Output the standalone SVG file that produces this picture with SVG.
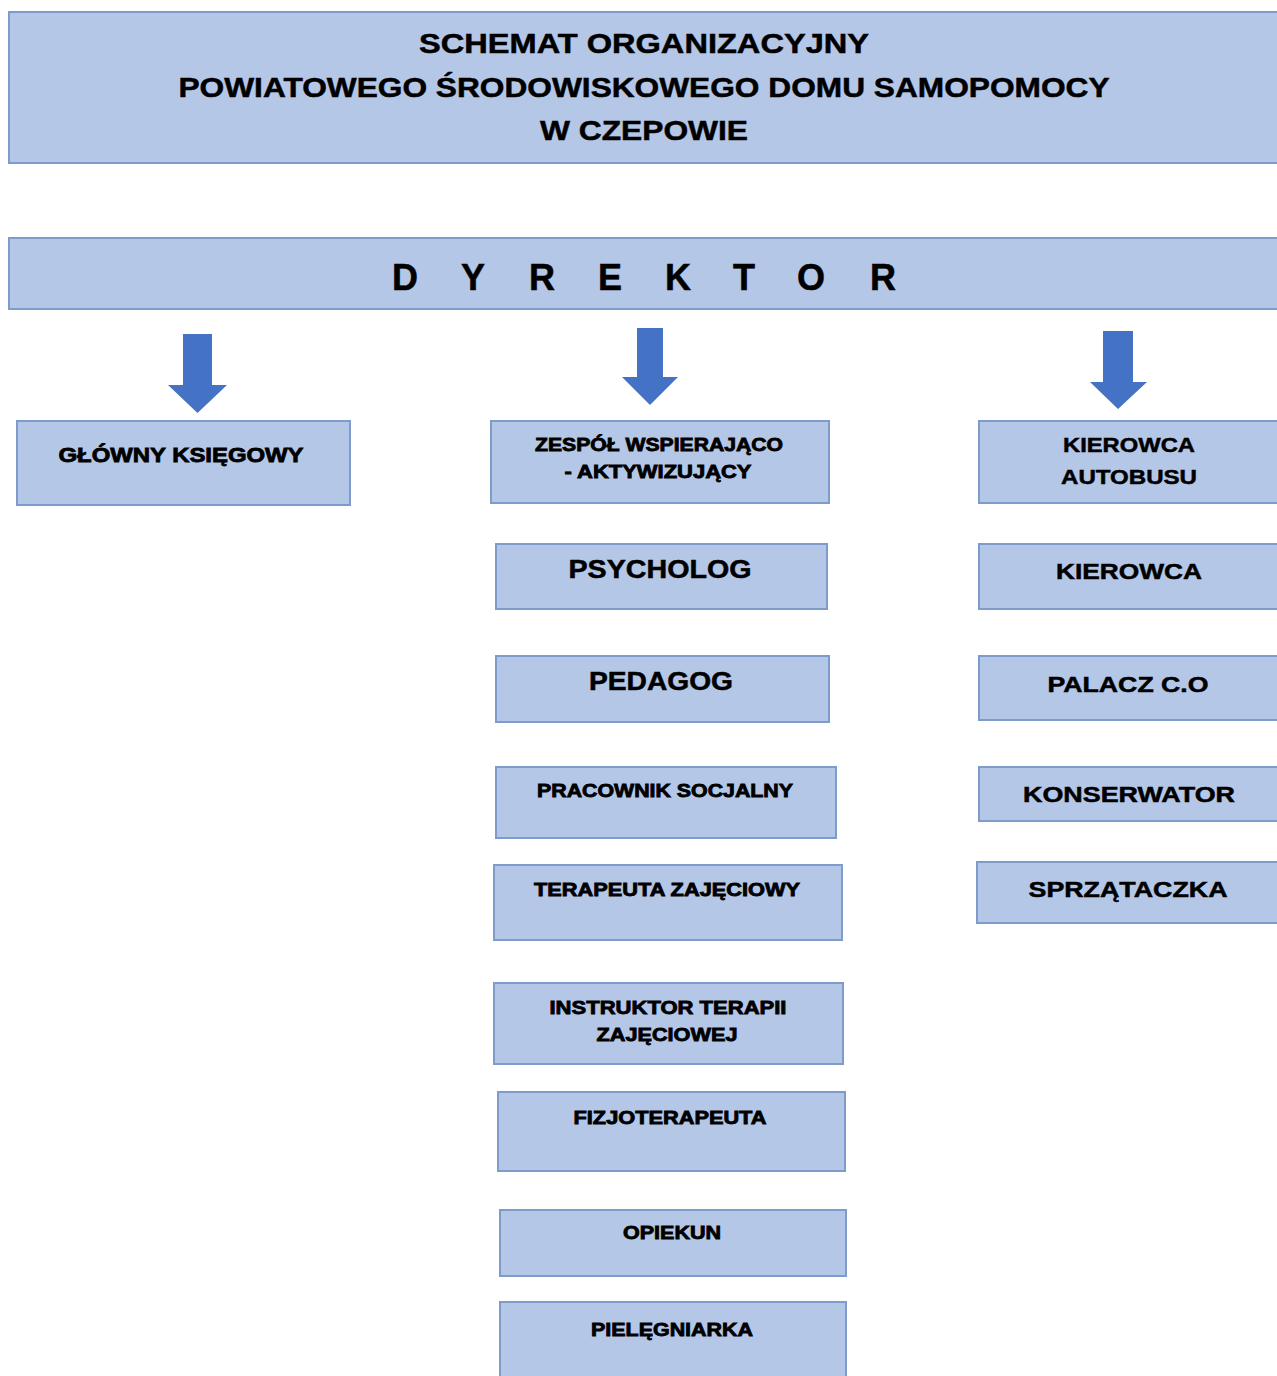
<svg xmlns="http://www.w3.org/2000/svg" width="1277" height="1376" viewBox="0 0 1277 1376">
<style>
.box{fill:#B4C7E7;stroke:#7F9BCB;stroke-width:2}
.t{font-family:"Liberation Sans",Arial,sans-serif;font-weight:bold;fill:#000;text-anchor:middle;stroke:#000;stroke-width:0.5}
.s{stroke-width:0.8}
.arr{fill:#4472C4}
</style>
<rect width="1277" height="1376" fill="#fff"/>
<g id="title">
<rect class="box" x="9" y="12" width="1275" height="151"/>
<text class="t" x="644" y="53" font-size="28" textLength="450" lengthAdjust="spacingAndGlyphs">SCHEMAT ORGANIZACYJNY</text>
<text class="t" x="644" y="97" font-size="28" textLength="931" lengthAdjust="spacingAndGlyphs">POWIATOWEGO ŚRODOWISKOWEGO DOMU SAMOPOMOCY</text>
<text class="t" x="644" y="140" font-size="28" textLength="208" lengthAdjust="spacingAndGlyphs">W CZEPOWIE</text>
</g>
<g id="dyrektor">
<rect class="box" x="9" y="238" width="1275" height="71"/>
<g class="t" font-size="36">
<text x="405" y="290">D</text><text x="473" y="290">Y</text><text x="542" y="290">R</text><text x="610" y="290">E</text><text x="678" y="290">K</text><text x="744" y="290">T</text><text x="811" y="290">O</text><text x="883" y="290">R</text>
</g>
</g>
<g id="connectors">
<polygon class="arr" points="183,334 212,334 212,385 227,385 197.5,413 168,385 183,385"/>
<polygon class="arr" points="637,328 663,328 663,377 678,377 650,405 622,377 637,377"/>
<polygon class="arr" points="1103,331 1133,331 1133,382 1147,382 1118,409 1090,382 1103,382"/>
</g>
<g id="glowny-ksiegowy">
<rect class="box" x="17" y="421" width="333" height="84"/>
<text class="t s" x="181" y="462" font-size="20" textLength="245" lengthAdjust="spacingAndGlyphs">GŁÓWNY KSIĘGOWY</text>
</g>
<g id="zespol">
<rect class="box" x="491" y="421" width="338" height="82"/>
<text class="t s" x="659" y="451" font-size="18" textLength="248" lengthAdjust="spacingAndGlyphs">ZESPÓŁ WSPIERAJĄCO</text>
<text class="t s" x="658" y="478" font-size="18" textLength="187" lengthAdjust="spacingAndGlyphs">- AKTYWIZUJĄCY</text>
</g>
<g id="kierowca-autobusu">
<rect class="box" x="979" y="421" width="305" height="82"/>
<text class="t" x="1129" y="452" font-size="21" textLength="132" lengthAdjust="spacingAndGlyphs">KIEROWCA</text>
<text class="t" x="1129" y="484" font-size="21" textLength="136" lengthAdjust="spacingAndGlyphs">AUTOBUSU</text>
</g>
<g id="psycholog">
<rect class="box" x="496" y="544" width="331" height="65"/>
<text class="t" x="660" y="578" font-size="25" textLength="183" lengthAdjust="spacingAndGlyphs">PSYCHOLOG</text>
</g>
<g id="kierowca">
<rect class="box" x="979" y="544" width="305" height="65"/>
<text class="t" x="1129" y="579" font-size="22" textLength="146" lengthAdjust="spacingAndGlyphs">KIEROWCA</text>
</g>
<g id="pedagog">
<rect class="box" x="496" y="656" width="333" height="66"/>
<text class="t" x="661" y="690" font-size="25" textLength="144" lengthAdjust="spacingAndGlyphs">PEDAGOG</text>
</g>
<g id="palacz">
<rect class="box" x="979" y="656" width="305" height="64"/>
<text class="t" x="1128" y="692" font-size="22" textLength="161" lengthAdjust="spacingAndGlyphs">PALACZ C.O</text>
</g>
<g id="pracownik-socjalny">
<rect class="box" x="496" y="767" width="340" height="71"/>
<text class="t s" x="665" y="797" font-size="18" textLength="256" lengthAdjust="spacingAndGlyphs">PRACOWNIK SOCJALNY</text>
</g>
<g id="konserwator">
<rect class="box" x="979" y="767" width="305" height="54"/>
<text class="t" x="1129" y="802" font-size="22" textLength="212" lengthAdjust="spacingAndGlyphs">KONSERWATOR</text>
</g>
<g id="terapeuta-zajeciowy">
<rect class="box" x="494" y="865" width="348" height="75"/>
<text class="t s" x="667" y="896" font-size="18" textLength="266" lengthAdjust="spacingAndGlyphs">TERAPEUTA ZAJĘCIOWY</text>
</g>
<g id="sprzataczka">
<rect class="box" x="977" y="862" width="307" height="61"/>
<text class="t" x="1128" y="897" font-size="22" textLength="199" lengthAdjust="spacingAndGlyphs">SPRZĄTACZKA</text>
</g>
<g id="instruktor">
<rect class="box" x="494" y="983" width="349" height="81"/>
<text class="t s" x="668" y="1014" font-size="18" textLength="237" lengthAdjust="spacingAndGlyphs">INSTRUKTOR TERAPII</text>
<text class="t s" x="667" y="1041" font-size="18" textLength="141" lengthAdjust="spacingAndGlyphs">ZAJĘCIOWEJ</text>
</g>
<g id="fizjoterapeuta">
<rect class="box" x="498" y="1092" width="347" height="79"/>
<text class="t s" x="670" y="1124" font-size="18" textLength="193" lengthAdjust="spacingAndGlyphs">FIZJOTERAPEUTA</text>
</g>
<g id="opiekun">
<rect class="box" x="500" y="1210" width="346" height="66"/>
<text class="t s" x="672" y="1239" font-size="18" textLength="98" lengthAdjust="spacingAndGlyphs">OPIEKUN</text>
</g>
<g id="pielegniarka">
<rect class="box" x="500" y="1302" width="346" height="84"/>
<text class="t s" x="672" y="1336" font-size="18" textLength="162" lengthAdjust="spacingAndGlyphs">PIELĘGNIARKA</text>
</g>
</svg>
